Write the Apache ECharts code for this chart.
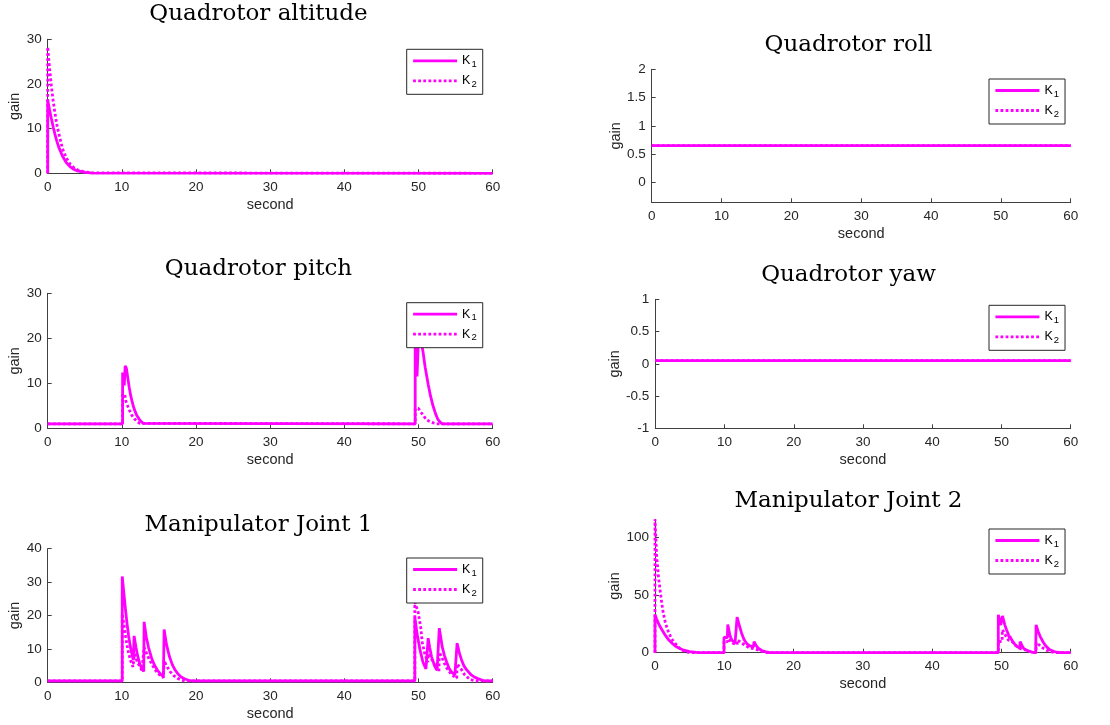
<!DOCTYPE html>
<html>
<head>
<meta charset="utf-8">
<script src="https://cdn.jsdelivr.net/npm/echarts@6/dist/echarts.min.js"></script>
<style>html,body{margin:0;padding:0;background:#fff}#c{width:1110px;height:725px}</style>
</head>
<body>
<div id="c"></div>
<script>
// ---------- data (time [s], gain) ----------
const titles = ['Quadrotor altitude','Quadrotor roll','Quadrotor pitch','Quadrotor yaw','Manipulator Joint 1','Manipulator Joint 2'];
const xTicks = [0,10,20,30,40,50,60];

const altK1 = [[0,0],[0,16.4],[0.25,14.2],[0.5,12.2],[0.75,10.3],[1,8.6],[1.25,7.1],[1.5,5.8],[2,3.8],[2.5,2.4],[3,1.5],[3.5,0.9],[4,0.55],[5,0.2],[6,0.05],[60,0]];
const altK2 = [[0,0],[0,28.3],[0.25,23.5],[0.5,19.5],[0.75,16],[1,13.2],[1.25,10.8],[1.5,8.9],[2,5.5],[2.5,3.5],[3,2.1],[3.5,1.3],[4,0.8],[5,0.3],[6,0.1],[60,0]];

const rollK1 = [[0,0.65],[60,0.65]];
const rollK2 = [[0,0.65],[60,0.65]];

const pitchK1 = [[0,1],[10.1,1],[10.1,12.4],[10.3,12.1],[10.32,9.5],[10.45,13.9],[10.6,13.4],[10.8,11.2],[11,9],[11.2,7.2],[11.4,5.8],[11.6,4.6],[11.8,3.7],[12,2.9],[12.3,2.1],[12.6,1.5],[12.9,1.1],[13.1,1],[49.55,1],[49.55,19.5],[49.75,19.5],[49.8,11.5],[50,20.5],[50.3,20],[50.6,17],[50.9,13.5],[51.3,9.8],[51.6,7.3],[51.95,5],[52.3,3.2],[52.6,2],[52.9,1.4],[53.2,1],[60,1]];
const pitchK2 = [[0,1],[10.1,1],[10.1,7.6],[10.4,7.4],[10.55,6],[10.8,4.9],[11,4.1],[11.3,3],[11.75,2],[12.1,1.4],[12.4,1.1],[12.6,1],[49.55,1],[49.55,4.4],[50,4.4],[50.3,3.6],[50.6,3],[51,2],[51.5,1.5],[52,1.2],[52.4,1],[60,1]];

const yawK1 = [[0,0.05],[60,0.05]];
const yawK2 = [[0,0.05],[60,0.05]];

const j1K1 = [[0,0.4],[10.05,0.4],[10.05,31.7],[10.3,26],[10.5,21.5],[10.7,17.5],[10.9,14],[11.1,11.2],[11.3,9],[11.55,6.6],[11.65,13.9],[11.9,10.5],[12.1,8.2],[12.4,5.6],[12.7,4.1],[12.95,3.2],[13,18.1],[13.3,13.5],[13.6,10.4],[14,7.3],[14.4,5.1],[14.8,3.6],[15.2,2.5],[15.6,1.7],[15.7,15.8],[16,11.5],[16.4,7.8],[16.8,5.3],[17.2,3.6],[17.6,2.4],[18,1.6],[18.5,1],[19,0.6],[19.5,0.4],[49.5,0.4],[49.5,19.5],[49.8,14.5],[50.2,9.7],[50.6,6],[51,4],[51.25,3.5],[51.3,13.2],[51.5,10.5],[51.75,7.7],[52.2,4.7],[52.5,3.6],[52.75,3.2],[52.8,16.2],[53.2,10.5],[53.5,8],[53.8,6],[54.1,4.3],[54.4,3.2],[54.9,2.2],[55.15,1.8],[55.2,11.7],[55.5,8.8],[55.8,6.7],[56.1,5],[56.5,3.7],[57.1,2.2],[57.5,1.6],[58,1.1],[58.6,0.6],[59,0.4],[60,0.4]];
const j1K2 = [[0,0.4],[10.05,0.4],[10.05,20.5],[10.3,17],[10.5,13.8],[10.7,11],[10.9,8.8],[11.2,6.3],[11.5,4.6],[11.65,4.2],[11.7,8.5],[12,6.6],[12.4,4.7],[12.7,3.6],[12.95,3.1],[13,10.5],[13.3,8.8],[13.7,6.8],[14.2,4.8],[14.7,3],[15.2,2],[15.6,1.4],[15.7,6.5],[16,5],[16.5,3.2],[17,2],[17.5,1.2],[18,0.7],[18.5,0.4],[49.5,0.4],[49.5,24],[49.95,21],[50.3,16.4],[50.5,12],[50.85,8.5],[51.25,6],[51.3,8.5],[51.6,7.5],[51.95,6.2],[52.4,4.2],[52.75,3.2],[52.8,9],[53.1,7.7],[53.5,5.6],[53.8,4.3],[54.4,2.4],[55.15,1.2],[55.2,5.5],[55.6,4.5],[56.2,2.3],[56.9,0.9],[57.6,0.4],[60,0.4]];

const j2K1 = [[0,0],[0,33],[0.25,29],[0.5,25.5],[0.75,22.5],[1,20],[1.5,15],[2,11],[2.5,8],[3,5.5],[3.5,3.8],[4,2.5],[5,0.9],[6,0.3],[7,0],[9.96,0],[9.96,13.5],[10.45,13],[10.5,24.5],[10.8,15.5],[11.07,11],[11.55,8.2],[11.8,7.5],[11.85,31],[12.2,23],[12.5,17],[12.85,11.5],[13.2,8.2],[13.6,6.2],[14.2,5],[14.3,9.6],[14.6,6.2],[14.9,3.9],[15.4,1.9],[15.9,0.9],[16.6,0],[49.55,0],[49.55,33],[49.75,32],[49.9,24],[50.15,32],[50.5,24],[50.75,19.8],[51,16],[51.15,12.5],[51.2,14.5],[51.5,11],[51.9,7.5],[52.3,5.2],[52.65,4.2],[52.7,9.6],[53,6],[53.2,3.8],[53.7,2],[54.4,0.4],[54.95,0],[55,24.2],[55.3,18.5],[55.6,14],[56,9.5],[56.3,6.7],[56.6,4.6],[57,2.6],[57.5,1.2],[58,0.4],[58.6,0],[60,0]];
const j2K2 = [[0,0],[0,116],[0.24,84],[0.5,66],[0.72,55],[1,42],[1.2,34.4],[1.5,26],[1.92,18.4],[2.4,12],[2.9,8.2],[3.4,4.8],[3.85,2.4],[4.4,1],[4.8,0.3],[5.5,0],[9.96,0],[9.96,10],[10.45,9.5],[10.5,12],[10.9,10],[11.3,8],[11.85,7],[11.9,11],[12.2,9.8],[12.9,6.9],[13.6,4.2],[14.2,3.5],[14.3,4.5],[15.1,2],[15.8,0.5],[16.3,0],[49.55,0],[49.55,10],[50.1,9.6],[50.15,20],[50.5,16],[51,11],[51.2,9.5],[51.5,10],[52,6.5],[52.65,3.8],[52.7,5.5],[53.2,3],[53.8,1.5],[54.5,0.3],[55,0],[55,9],[55.5,6.5],[56,4],[56.6,2],[57.2,0.8],[57.8,0],[60,0]];

const yRanges = [[0,30],[-0.35,2],[0,30],[-1,1],[0,40],[0,116]];
const yTicks = [[0,10,20,30],[0,0.5,1,1.5,2],[0,10,20,30],[-1,-0.5,0,0.5,1],[0,10,20,30,40],[0,50,100]];
const k1Data = [altK1, rollK1, pitchK1, yawK1, j1K1, j2K1];
const k2Data = [altK2, rollK2, pitchK2, yawK2, j1K2, j2K2];

// ---------- layout ----------
const grids = [
  {left:47.7, top:39.3, width:445, height:134},
  {left:651.7, top:69.3, width:419, height:133},
  {left:47.7, top:293.3, width:445, height:135},
  {left:655.3, top:299.3, width:415.4, height:129},
  {left:47.7, top:548.7, width:445, height:133.6},
  {left:655, top:519.3, width:415.7, height:133.4}
];
const titlePos = [[258.5,2.5],[848.5,33.3],[258.5,257.6],[848.5,263.9],[258.5,513.3],[848.5,489.9]];
const legendPos = [[406.7,49.3],[989,79],[406.7,302.7],[989,305.3],[406.7,558],[989,529]];
const yNameGap = [24,26,24,30,24,29];

const AX = '#404040';
const MAG = '#ff00ff';
const tickFont = {fontFamily:'Liberation Sans, Arial, sans-serif', fontSize:13.5, color:'#262626'};

const option = {
  animation:false,
  backgroundColor:'#fff',
  title: titles.map((t,i)=>({text:t, left:titlePos[i][0], top:titlePos[i][1], textAlign:'center', padding:0,
    textStyle:{fontFamily:'DejaVu Serif, serif', fontWeight:'normal', fontSize:23, color:'#000', lineHeight:23}})),
  grid: grids.map(g=>Object.assign({containLabel:false}, g)),
  legend: legendPos.map((p,i)=>({
    data:['K1','K2'], left:p[0], top:p[1], orient:'vertical', selectedMode:false,
    itemWidth:44, itemHeight:14, itemGap:5, itemTextGap:5,
    padding:[5,6,5,5], borderColor:'#262626', borderWidth:1, backgroundColor:'#fff', borderRadius:0,
    itemStyle:{opacity:0},
    lineStyle:{width:2.8},
    formatter: n => '{k|K}{s|' + n.slice(1) + '}',
    textStyle:{rich:{k:{fontFamily:'Liberation Sans, Arial, sans-serif', fontSize:12.5, color:'#000'},
                     s:{fontFamily:'Liberation Sans, Arial, sans-serif', fontSize:9.5, color:'#000', padding:[7,0,0,1]}}}
  })),
  xAxis: grids.map((g,i)=>({
    gridIndex:i, type:'value', min:0, max:60, interval:10,
    name:'second', nameLocation:'middle', nameGap:24,
    nameTextStyle:{fontFamily:'Liberation Sans, Arial, sans-serif', fontSize:14.5, color:'#262626'},
    axisLine:{show:true, onZero:false, lineStyle:{color:AX, width:1}},
    axisTick:{show:true, inside:true, length:4, lineStyle:{color:AX}, customValues:xTicks},
    axisLabel:Object.assign({margin:7, customValues:xTicks, formatter:v=>String(v)}, tickFont),
    splitLine:{show:false}
  })),
  yAxis: grids.map((g,i)=>({
    gridIndex:i, type:'value', min:yRanges[i][0], max:yRanges[i][1],
    name:'gain', nameLocation:'middle', nameGap:yNameGap[i], nameRotate:90,
    nameTextStyle:{fontFamily:'Liberation Sans, Arial, sans-serif', fontSize:14.5, color:'#262626'},
    axisLine:{show:true, onZero:false, lineStyle:{color:AX, width:1}},
    axisTick:{show:true, inside:true, length:4, lineStyle:{color:AX}, customValues:yTicks[i]},
    axisLabel:Object.assign({margin:6, customValues:yTicks[i], formatter:v=>String(v)}, tickFont),
    splitLine:{show:false}
  })),
  series: []
};
for (let i=0;i<6;i++){
  option.series.push({name:'K1', type:'line', xAxisIndex:i, yAxisIndex:i, data:k1Data[i], symbol:'none', showSymbol:false,
    lineStyle:{color:MAG, width:2.8, type:'solid'}, itemStyle:{color:MAG}, z:2});
  option.series.push({name:'K2', type:'line', xAxisIndex:i, yAxisIndex:i, data:k2Data[i], symbol:'none', showSymbol:false,
    lineStyle:{color:MAG, width:2.8, type:[2.8,2.3]}, itemStyle:{color:MAG}, z:3});
}
const chart = echarts.init(document.getElementById('c'), null, {renderer:'canvas'});
chart.setOption(option);
</script>
</body>
</html>
